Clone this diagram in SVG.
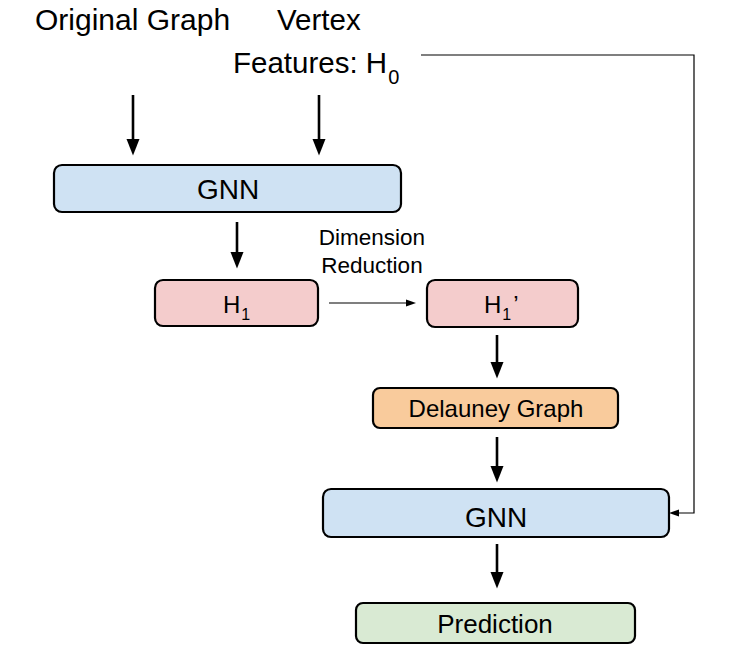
<svg xmlns="http://www.w3.org/2000/svg" width="741" height="664" viewBox="0 0 741 664">
<style>
text{font-family:"Liberation Sans",Arial,Helvetica,sans-serif;fill:#000}
.box{stroke:#000;stroke-width:2.2}
.blue{fill:#cfe2f3}.pink{fill:#f4cccc}.orange{fill:#f9cb9c}.green{fill:#d9ead3}
.thick{stroke:#000;stroke-width:2.6;fill:none;marker-end:url(#big)}
.thin{stroke:#000;stroke-width:1.2;fill:none;marker-end:url(#small)}
</style>
<defs>
<marker id="big" markerUnits="userSpaceOnUse" markerWidth="17" markerHeight="14" refX="6" refY="7" orient="auto" viewBox="0 0 17 14">
<path d="M0,0.5 L16.5,7 L0,13.5 z" fill="#000"/>
</marker>
<marker id="small" markerUnits="userSpaceOnUse" markerWidth="11" markerHeight="8" refX="3" refY="4" orient="auto" viewBox="0 0 11 8">
<path d="M0,0.5 L10,4 L0,7.5 z" fill="#000"/>
</marker>
</defs>

<g id="label-original-graph"><text x="35" y="30" font-size="30">Original Graph</text></g>
<g id="label-vertex-features">
<text x="277" y="30" font-size="29.5">Vertex</text>
<text x="233" y="73" font-size="29.5">Features: H<tspan font-size="20" dy="11" dx="1">0</tspan></text>
</g>

<g id="connectors">
<line class="thick" x1="133" y1="95" x2="133" y2="145"/>
<line class="thick" x1="319" y1="95" x2="319" y2="145"/>
<line class="thick" x1="237" y1="222" x2="237" y2="258"/>
<line class="thin" x1="329" y1="303" x2="409" y2="303"/>
<line class="thick" x1="497" y1="335" x2="497" y2="368"/>
<line class="thick" x1="497" y1="437" x2="497" y2="472"/>
<line class="thick" x1="497" y1="544" x2="497" y2="578"/>
<polyline class="thin" points="421,55 694,55 694,513 676,513"/>
</g>

<g id="gnn1">
<rect class="box blue" x="54" y="165" width="347" height="47" rx="8"/>
<text x="228" y="199" font-size="28" text-anchor="middle">GNN</text>
</g>

<g id="dimension-reduction-label">
<text x="372" y="245" font-size="22.5" text-anchor="middle">Dimension</text>
<text x="372" y="273" font-size="22.5" text-anchor="middle">Reduction</text>
</g>

<g id="h1">
<rect class="box pink" x="155" y="280" width="163" height="46" rx="8"/>
<text x="223" y="313" font-size="24">H<tspan font-size="16" dy="7" dx="1">1</tspan></text>
</g>

<g id="h1prime">
<rect class="box pink" x="427" y="280" width="151" height="47" rx="8"/>
<text x="484" y="313" font-size="24">H<tspan font-size="16" dy="7" dx="1">1</tspan><tspan dy="-7" dx="2">’</tspan></text>
</g>

<g id="delauney">
<rect class="box orange" x="373" y="388" width="245" height="40" rx="7"/>
<text x="496" y="417" font-size="24" text-anchor="middle">Delauney Graph</text>
</g>

<g id="gnn2">
<rect class="box blue" x="323" y="489" width="346" height="48" rx="8"/>
<text x="496" y="527" font-size="28" text-anchor="middle">GNN</text>
</g>

<g id="prediction">
<rect class="box green" x="356" y="603" width="279" height="40" rx="7"/>
<text x="495" y="633" font-size="26" text-anchor="middle">Prediction</text>
</g>
</svg>
